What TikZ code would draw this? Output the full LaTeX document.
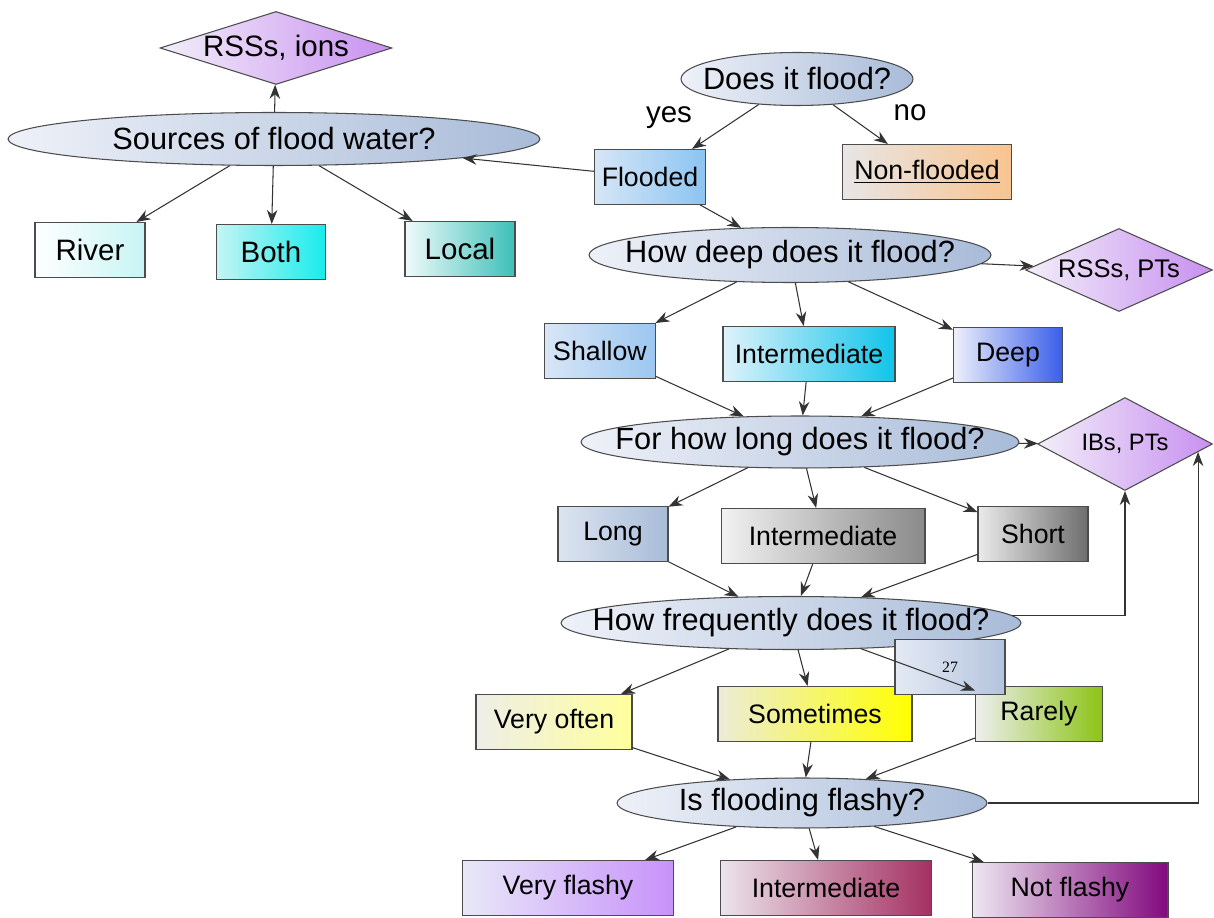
\documentclass[tikz,border=0pt]{standalone}
\usepackage{fontspec}
\setmainfont{Liberation Sans}
\newfontfamily\pagenumfont{Liberation Serif}
\usetikzlibrary{shapes.geometric,arrows.meta,calc}

\definecolor{qleft}{HTML}{EEF1F8}
\definecolor{qright}{HTML}{A8BBD8}
\definecolor{dleft}{HTML}{F2EEF9}
\definecolor{dright}{HTML}{C890F0}

\tikzset{
	question/.style={ellipse, draw=black!70, line width=0.6pt, inner xsep=-1cm, inner ysep=-0.2cm,
		left color=qleft, right color=qright, font=\fontsize{17.5}{20}\selectfont},
	answer/.style={rectangle, draw=black!70, line width=0.6pt, inner sep=0pt,
		minimum height=1.1cm, font=\fontsize{15.2}{18}\selectfont},
	method/.style={diamond, draw=black!70, line width=0.6pt, inner sep=0pt,
		left color=dleft, right color=dright},
	arr/.style={-{Stealth[length=8pt,width=6pt]}, draw=black!80, line width=0.6pt},
}

\begin{document}
\begin{tikzpicture}[x=0.02cm,y=-0.02cm]

	\useasboundingbox (0,0) rectangle (1214,918);
	\fill[white] (0,0) rectangle (1214,918);

% sources of the water
\node[method, aspect=3.2, minimum width=4.64cm, minimum height=1.46cm, font=\fontsize{16.8}{19}\selectfont] (ions) at (276,48) {RSSs, ions};
\node[question, minimum width=10.64cm, minimum height=1.06cm] (srcq) at (274,139) {Sources of flood water?};
\node[answer, minimum width=2.2cm, font=\fontsize{16.8}{19}\selectfont, left color=white, right color={rgb,255:red,200;green,244;blue,244}] (river) at (90,250) {River};
\node[answer, minimum width=2.18cm, font=\fontsize{16.8}{19}\selectfont, left color={rgb,255:red,196;green,244;blue,244}, right color={rgb,255:red,24;green,236;blue,236}] (both) at (271,252) {Both};
\node[answer, minimum width=2.2cm, font=\fontsize{16.8}{19}\selectfont, left color={rgb,255:red,240;green,250;blue,250}, right color={rgb,255:red,60;green,192;blue,184}] (local) at (460,249) {Local};

% does it flood
\node[question, minimum width=4.64cm, minimum height=1.06cm] (floodq) at (797,79) {Does it flood?};
\node[font=\fontsize{16.8}{19}\selectfont] (yes) at (669,118) {yes};
\node[font=\fontsize{16.8}{19}\selectfont] (no) at (910,113) {no};
\node[answer, minimum width=2.22cm, left color={rgb,255:red,214;green,230;blue,246}, right color={rgb,255:red,140;green,196;blue,242}] (flooded) at (650,177) {Flooded};
\node[answer, minimum width=3.38cm, left color={rgb,255:red,232;green,230;blue,230}, right color={rgb,255:red,248;green,196;blue,144}] (nonflooded) at (927,172) {\underline{Non-flooded}};

% depth
\node[question, minimum width=8.04cm, minimum height=1.1cm] (deepq) at (790,255) {How deep does it flood?};
\node[method, aspect=2.25, minimum width=3.74cm, minimum height=1.66cm, font=\fontsize{14.5}{17}\selectfont] (rsspt) at (1119,270) {RSSs, PTs};
\node[answer, minimum width=2.22cm, left color={rgb,255:red,216;green,230;blue,246}, right color={rgb,255:red,156;green,198;blue,240}] (shallow) at (600,351) {Shallow};
\node[answer, minimum width=3.44cm, left color={rgb,255:red,224;green,242;blue,250}, right color={rgb,255:red,16;green,196;blue,234}] (dmid) at (809,354) {Intermediate};
\node[answer, minimum width=2.18cm, left color={rgb,255:red,238;green,240;blue,250}, right color={rgb,255:red,58;green,94;blue,234}] (deep) at (1008,355) {Deep};

% duration
\node[question, minimum width=8.76cm, minimum height=1.04cm] (longq) at (800,442) {For how long does it flood?};
\node[method, aspect=1.88, minimum width=3.5cm, minimum height=1.86cm, font=\fontsize{13.5}{16}\selectfont] (ibpt) at (1125,444) {IBs, PTs};
\node[answer, minimum width=2.2cm, left color={rgb,255:red,220;green,228;blue,240}, right color={rgb,255:red,168;green,188;blue,216}] (long) at (613,534) {Long};
\node[answer, minimum width=4.08cm, left color={rgb,255:red,242;green,242;blue,242}, right color={rgb,255:red,138;green,138;blue,138}] (lmid) at (823,536) {Intermediate};
\node[answer, minimum width=2.2cm, left color={rgb,255:red,234;green,234;blue,234}, right color={rgb,255:red,110;green,110;blue,110}] (short) at (1033,534) {Short};

% frequency
\node[question, minimum width=9.2cm, minimum height=1.06cm] (freqq) at (791,623) {How frequently does it flood?};
\node[answer, minimum width=3.12cm, left color={rgb,255:red,238;green,238;blue,232}, right color={rgb,255:red,255;green,255;blue,156}] (veryoften) at (554,722) {Very often};
\node[answer, minimum width=3.88cm, left color={rgb,255:red,236;green,236;blue,216}, right color={rgb,255:red,255;green,255;blue,0}] (sometimes) at (815,714) {Sometimes};
\node[answer, minimum width=2.54cm, left color={rgb,255:red,238;green,238;blue,238}, right color={rgb,255:red,140;green,196;blue,22}] (rarely) at (1039,714) {Rarely};
\node[answer, minimum width=2.2cm, left color={rgb,255:red,228;green,234;blue,244}, right color={rgb,255:red,180;green,196;blue,222}, font=\pagenumfont\fontsize{9}{10}\selectfont] (page27) at (950,667) {27};

% flashiness
\node[question, minimum width=7.4cm, minimum height=1.0cm] (flashq) at (802,803) {Is flooding flashy?};
\node[answer, minimum width=4.22cm, left color={rgb,255:red,232;green,232;blue,248}, right color={rgb,255:red,200;green,146;blue,250}] (veryflashy) at (568,888) {Very flashy};
\node[answer, minimum width=4.22cm, left color={rgb,255:red,236;green,228;blue,236}, right color={rgb,255:red,164;green,48;blue,98}] (fmid) at (826,888) {Intermediate};
\node[answer, minimum width=3.92cm, left color={rgb,255:red,238;green,232;blue,242}, right color={rgb,255:red,130;green,8;blue,126}] (notflashy) at (1070,890) {Not flashy};

\coordinate (ibfeed) at ($(ibpt.east)!0.17!(ibpt.south)$);

% connectors
\draw[arr] (srcq) -- (ions);
\foreach \a in {river,both,local} \draw[arr] (srcq) -- (\a);
\draw[arr] (flooded) -- (srcq);
\foreach \a in {flooded,nonflooded} \draw[arr] (floodq) -- (\a);
\draw[arr] (flooded) -- (deepq);
\foreach \a in {shallow,dmid,deep,rsspt} {
	\draw[arr] (deepq) -- (\a);
}
\foreach \a in {shallow,dmid,deep} \draw[arr] (\a) -- (longq);
\foreach \a in {long,lmid,short,ibpt} {
	\draw[arr] (longq) -- (\a);
}
\foreach \a in {long,lmid,short} \draw[arr] (\a) -- (freqq);
\foreach \a in {veryoften,sometimes,rarely} {
	\draw[arr] (freqq) -- (\a);
	\draw[arr] (\a) -- (flashq);
}
\foreach \a in {veryflashy,fmid,notflashy} \draw[arr] (flashq) -- (\a);
\draw[arr] (freqq.2) -| (ibpt.south);
\draw[arr] (flashq.east) -| (ibfeed);

\end{tikzpicture}
\end{document}
